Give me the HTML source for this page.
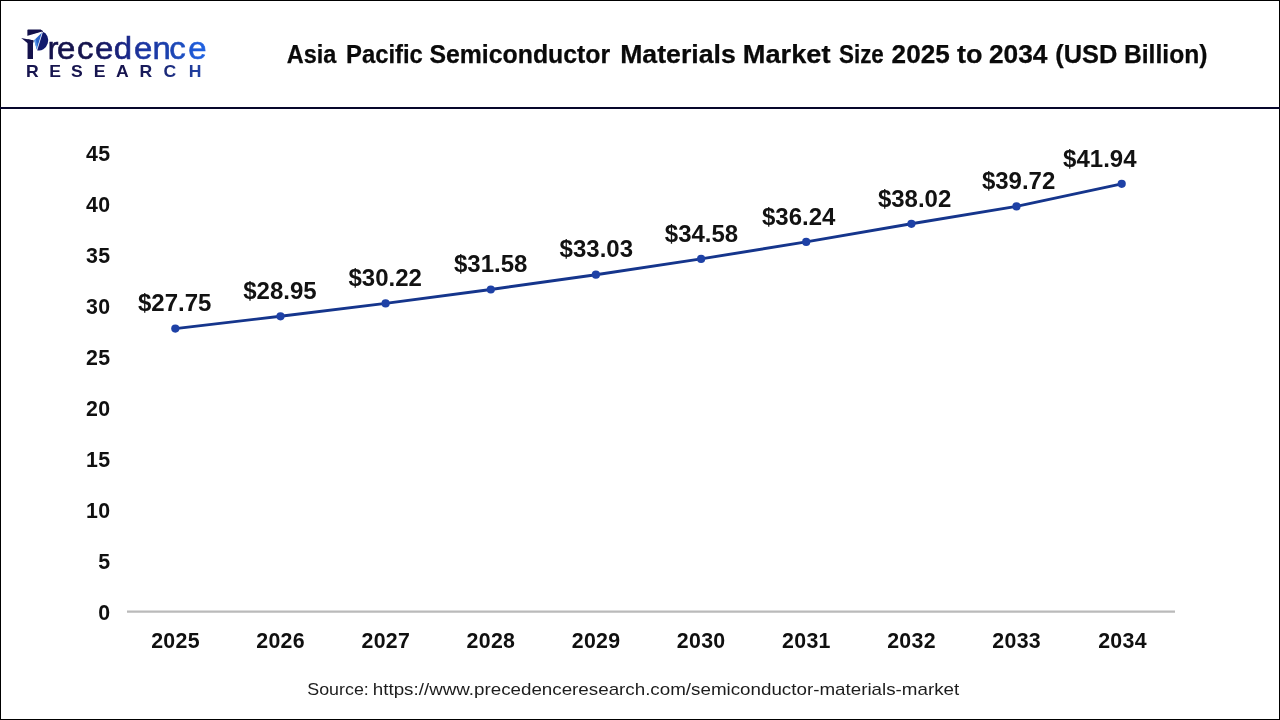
<!DOCTYPE html>
<html>
<head>
<meta charset="utf-8">
<title>Asia Pacific Semiconductor Materials Market Size 2025 to 2034 (USD Billion)</title>
<style>
  html, body { margin: 0; padding: 0; background: #ffffff; }
  body { width: 1280px; height: 720px; overflow: hidden; position: relative;
         font-family: "Liberation Sans", sans-serif; color: #111; }
  .frame { position: absolute; left: 0; top: 0; width: 1278px; height: 718px;
           border: 1px solid #000; box-sizing: content-box; }
  .sep { position: absolute; left: 0; top: 107px; width: 1280px; height: 2px; background: #06062b; }
  svg { position: absolute; left: 0; top: 0; }
  .title { font-weight: 700; fill: #0a0a0a; }
  .ax { font-weight: 700; font-size: 21.33px; letter-spacing: 0.3px; fill: #101010; }
  .dl { font-weight: 700; font-size: 24px; fill: #121212; }
  .src { font-size: 16.6px; fill: #1c1c1c; }
</style>
</head>
<body>
<div class="frame"></div>
<div class="sep"></div>
<svg width="1280" height="720" viewBox="0 0 1280 720">
  <!-- logo -->
  <defs>
    <linearGradient id="lg1" gradientUnits="userSpaceOnUse" x1="27" y1="0" x2="206" y2="0">
      <stop offset="0" stop-color="#15124c"/>
      <stop offset="0.35" stop-color="#15144d"/>
      <stop offset="0.436" stop-color="#181b66"/>
      <stop offset="0.542" stop-color="#1a2584"/>
      <stop offset="0.648" stop-color="#1c36a2"/>
      <stop offset="0.749" stop-color="#1b3ca8"/>
      <stop offset="0.844" stop-color="#1c4aba"/>
      <stop offset="0.95" stop-color="#1e5cda"/>
      <stop offset="1" stop-color="#1f62e2"/>
    </linearGradient>
    <linearGradient id="lg2" gradientUnits="userSpaceOnUse" x1="27" y1="0" x2="202" y2="0">
      <stop offset="0" stop-color="#17154f"/>
      <stop offset="0.55" stop-color="#17154f"/>
      <stop offset="0.75" stop-color="#1d2f84"/>
      <stop offset="1" stop-color="#2450bd"/>
    </linearGradient>
  </defs>
  <g id="logo">
    <g transform="translate(0 59) scale(1 0.96) translate(0 -59)">
      <text id="lw" y="59" font-size="33" fill="url(#lg1)" stroke="url(#lg1)" stroke-width="0.6" x="24.9 47.6 57.1 76.9 95 113.7 134 152.5 169.2 188.2"><tspan font-size="44.7" font-weight="700" fill="#13114b" stroke="none" textLength="25.3" lengthAdjust="spacingAndGlyphs">P</tspan>recedence</text>
    </g>
    <text id="lr" y="77" font-size="16" font-weight="700" fill="url(#lg2)" transform="scale(1.1 1)" x="23.64 44.73 64.55 85.27 105.36 126.82 148.55 171.64">RESEARCH</text>
    <!-- paper plane icon -->
    <g id="plane">
      <polygon points="33,34.5 43,31.7 41,27 49.2,27 49.2,61 33,61" fill="#ffffff"/>
      <polygon points="27.7,29.6 40.8,29.6 42.6,31.6 33,34.4 27.7,35.9" fill="#13114b"/>
      <polygon points="20.6,37.7 42.4,31.6 34.1,40.5" fill="#ffffff"/>
      <polygon points="21.2,38.1 33.9,40.5 32.7,44.5 27.7,43.2" fill="#14124d"/>
      <path d="M42.7,31.8 A9.63,8.2 107.2 0 1 37,50.2 Z" fill="#111a6e"/>
      <polygon points="34.2,40.2 42.2,32.3 36.8,49.6" fill="#2a63c9"/>
      <polygon points="34.2,40.2 35.8,38.8 37.3,47.8 36.8,49.6" fill="#5b9cea"/>
      <line x1="42.5" y1="32" x2="36.9" y2="50.1" stroke="#eef3ff" stroke-width="0.6"/>
    </g>
  </g>

  <!-- title -->
  <text class="title" font-size="24.9" stroke="#0a0a0a" stroke-width="0.25" y="62.75"><tspan x="286.84" textLength="49.53" lengthAdjust="spacingAndGlyphs">Asia</tspan> <tspan x="346.00" textLength="76.83" lengthAdjust="spacingAndGlyphs">Pacific</tspan> <tspan x="429.41" textLength="180.80" lengthAdjust="spacingAndGlyphs">Semiconductor</tspan> <tspan x="620.16" textLength="115.58" lengthAdjust="spacingAndGlyphs">Materials</tspan> <tspan x="742.82" textLength="87.71" lengthAdjust="spacingAndGlyphs">Market</tspan> <tspan x="838.98" textLength="44.86" lengthAdjust="spacingAndGlyphs">Size</tspan> <tspan x="891.64" textLength="58.13" lengthAdjust="spacingAndGlyphs">2025</tspan> <tspan x="957.04" textLength="25.47" lengthAdjust="spacingAndGlyphs">to</tspan> <tspan x="988.93" textLength="58.51" lengthAdjust="spacingAndGlyphs">2034</tspan> <tspan x="1055.32" textLength="62.09" lengthAdjust="spacingAndGlyphs">(USD</tspan> <tspan x="1124.00" textLength="83.41" lengthAdjust="spacingAndGlyphs">Billion)</tspan></text>

  <!-- axis -->
  <line x1="127" y1="611.6" x2="1175" y2="611.6" stroke="#bababa" stroke-width="2.2"/>

  <!-- y labels -->
  <g class="ax" text-anchor="end" transform="translate(-0.1 0.3)">
    <text x="110.5" y="160.5">45</text>
    <text x="110.5" y="211.5">40</text>
    <text x="110.5" y="262.6">35</text>
    <text x="110.5" y="313.6">30</text>
    <text x="110.5" y="364.6">25</text>
    <text x="110.5" y="415.7">20</text>
    <text x="110.5" y="466.7">15</text>
    <text x="110.5" y="517.7">10</text>
    <text x="110.5" y="568.8">5</text>
    <text x="110.5" y="619.8">0</text>
  </g>

  <!-- x labels -->
  <g class="ax" text-anchor="middle">
    <text x="175.5" y="647.5">2025</text>
    <text x="280.6" y="647.5">2026</text>
    <text x="385.8" y="647.5">2027</text>
    <text x="490.9" y="647.5">2028</text>
    <text x="596.1" y="647.5">2029</text>
    <text x="701.2" y="647.5">2030</text>
    <text x="806.4" y="647.5">2031</text>
    <text x="911.5" y="647.5">2032</text>
    <text x="1016.7" y="647.5">2033</text>
    <text x="1122.5" y="647.5">2034</text>
  </g>

  <!-- line -->
  <polyline fill="none" stroke="#15358c" stroke-width="2.9" transform="translate(0 0.3)" stroke-linejoin="round" stroke-linecap="round"
    points="175.3,328.3 280.5,316.0 385.6,303.1 490.8,289.2 595.9,274.4 701.1,258.6 806.2,241.6 911.4,223.5 1016.5,206.1 1121.7,183.5"/>
  <g fill="#1e41a6" transform="translate(0 0.3)">
    <circle cx="175.3" cy="328.3" r="4.1"/>
    <circle cx="280.5" cy="316.0" r="4.1"/>
    <circle cx="385.6" cy="303.1" r="4.1"/>
    <circle cx="490.8" cy="289.2" r="4.1"/>
    <circle cx="595.9" cy="274.4" r="4.1"/>
    <circle cx="701.1" cy="258.6" r="4.1"/>
    <circle cx="806.2" cy="241.6" r="4.1"/>
    <circle cx="911.4" cy="223.5" r="4.1"/>
    <circle cx="1016.5" cy="206.1" r="4.1"/>
    <circle cx="1121.7" cy="183.5" r="4.1"/>
  </g>

  <!-- data labels -->
  <g class="dl" text-anchor="middle">
    <text x="174.65" y="311.3">$27.75</text>
    <text x="279.9" y="299.1">$28.95</text>
    <text x="385.2" y="286.0">$30.22</text>
    <text x="490.7" y="272.0">$31.58</text>
    <text x="596.3" y="257.4">$33.03</text>
    <text x="701.5" y="241.6">$34.58</text>
    <text x="798.7" y="224.8">$36.24</text>
    <text x="914.6" y="206.6">$38.02</text>
    <text x="1018.6" y="188.9">$39.72</text>
    <text x="1099.8" y="166.6">$41.94</text>
  </g>

  <!-- source -->
  <text class="src" y="695.2"><tspan x="307.3" textLength="61.5" lengthAdjust="spacingAndGlyphs">Source:</tspan> <tspan x="372.8" textLength="586.4" lengthAdjust="spacingAndGlyphs">https://www.precedenceresearch.com/semiconductor-materials-market</tspan></text>
</svg>
</body>
</html>
